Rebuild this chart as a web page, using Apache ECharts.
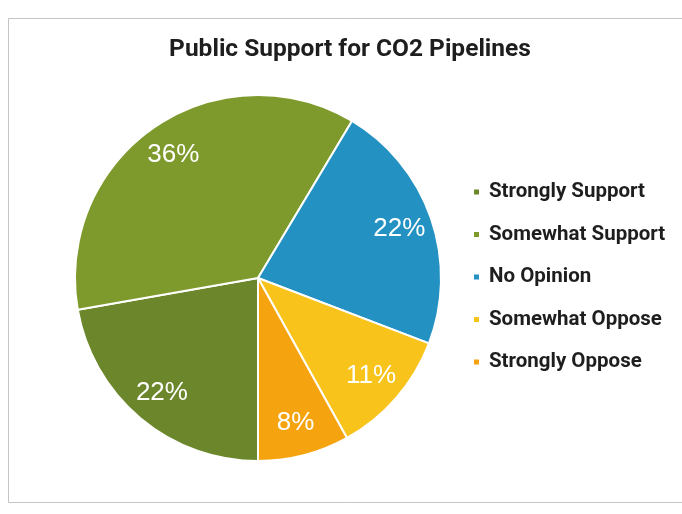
<!DOCTYPE html>
<html>
<head>
<meta charset="utf-8">
<script src="https://cdn.jsdelivr.net/npm/echarts@6/dist/echarts.min.js"></script>
<style>
  html, body { margin: 0; padding: 0; background: #fff; }
  #main { width: 682px; height: 514px; }
</style>
</head>
<body>
<div id="main"></div>
<script>
// values as printed on the chart (they add up to 99, as in the original)
const categories = ['Strongly Support', 'Somewhat Support', 'No Opinion', 'Somewhat Oppose', 'Strongly Oppose'];
const shares = [22, 36, 22, 11, 8];
const colors = ['#6c872b', '#7e9a2c', '#2391c2', '#f8c31b', '#f5a30e'];

let myChart = echarts.init(document.getElementById('main'));

const pieData = categories.map(function (name, i) {
    return { name: name, value: shares[i], itemStyle: { color: colors[i] } };
});

option = {
    backgroundColor: '#fff',
    animation: false,
    title: {
        text: 'Public Support for CO2 Pipelines',
        left: 345,
        textAlign: 'center',
        top: 32,
        textStyle: {
            fontFamily: 'Roboto',
            fontWeight: 'bold',
            fontSize: 24.5,
            color: '#1e1e1e'
        }
    },
    graphic: [{
        type: 'rect',
        shape: { x: 8.5, y: 18.5, width: 700, height: 484 },
        style: { fill: 'none', stroke: '#c4c4c4', lineWidth: 1 },
        silent: true
    }],
    legend: {
        orient: 'vertical',
        left: 467,
        top: 176,
        itemWidth: 7,
        itemHeight: 7,
        itemGap: 20.5,
        icon: 'rect',
        data: categories,
        textStyle: {
            fontFamily: 'Roboto',
            fontWeight: 'bold',
            fontSize: 20.5,
            lineHeight: 22,
            color: '#1e1e1e',
            padding: [0, 0, 0, 4]
        }
    },
    series: [
        {
            name: 'Public Support',
            type: 'pie',
            center: [258, 278],
            radius: [0, 183],
            startAngle: -90,
            clockwise: true,
            avoidLabelOverlap: false,
            itemStyle: { borderColor: '#fff', borderWidth: 2 },
            label: { show: false },
            labelLine: { show: false },
            emphasis: { disabled: true },
            data: pieData
        },
        {
            // transparent ring used only to place the labels near the rim
            name: 'labels',
            type: 'pie',
            center: [258, 278],
            radius: [110, 183],
            startAngle: -90,
            clockwise: true,
            silent: true,
            avoidLabelOverlap: false,
            itemStyle: { color: 'rgba(0,0,0,0)', borderWidth: 0 },
            label: {
                show: true,
                position: 'inside',
                formatter: '{c}%',
                color: '#fff',
                fontFamily: 'Liberation Sans',
                fontSize: 26
            },
            labelLine: { show: false },
            emphasis: { disabled: true },
            data: shares.map(function (v, i) { return { name: categories[i], value: v }; })
        }
    ]
};

myChart.setOption(option);
</script>
</body>
</html>
